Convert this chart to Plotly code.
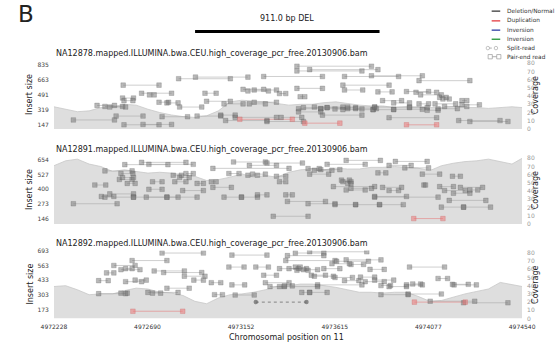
import plotly.graph_objects as go

# ---------------- data ----------------
X_START, X_END = 4972228, 4974540
X_TICKS = [4972228, 4972690, 4973152, 4973615, 4974077, 4974540]
DEL_START, DEL_END = 4972925, 4973836
DEL_LABEL = "911.0 bp DEL"
CHROM = "11"

SAMPLES = [
    "NA12878.mapped.ILLUMINA.bwa.CEU.high_coverage_pcr_free.20130906.bam",
    "NA12891.mapped.ILLUMINA.bwa.CEU.high_coverage_pcr_free.20130906.bam",
    "NA12892.mapped.ILLUMINA.bwa.CEU.high_coverage_pcr_free.20130906.bam",
]
INSERT_TICKS = [
    [147, 319, 491, 663, 835],
    [146, 273, 400, 527, 654],
    [173, 303, 433, 563, 693],
]
INSERT_RANGES = [[99.5, 886], [99.4, 688], [98.4, 695]]
COV_TICKS = [0, 10, 20, 30, 40, 50, 60, 70, 80]

COV_POS = [4972228, 4972286, 4972344, 4972402, 4972460, 4972518, 4972576, 4972634,
           4972692, 4972750, 4972808, 4972866, 4972924, 4972982, 4973040, 4973098,
           4973156, 4973214, 4973272, 4973330, 4973388, 4973446, 4973504, 4973562,
           4973620, 4973678, 4973736, 4973794, 4973852, 4973910, 4973968, 4974026,
           4974084, 4974142, 4974200, 4974258, 4974316, 4974374, 4974432, 4974490,
           4974540]
COV_P1 = [27, 24, 21, 22, 26, 27, 30, 29, 24, 20, 17, 15, 14, 16, 22, 33, 35, 34, 33, 31,
          29, 30, 30, 32, 33, 31, 29, 28, 28, 26, 27, 27, 26, 26, 27, 26, 26, 25, 26, 27, 26]
COV_P2 = [71, 77, 79, 73, 70, 64, 66, 64, 62, 63, 62, 60, 58, 53, 54, 57, 61, 57, 59, 57,
          63, 66, 67, 66, 68, 67, 67, 69, 69, 70, 69, 68, 65, 71, 74, 76, 77, 79, 76, 73, 80]
COV_P3 = [39, 40, 35, 29, 30, 30, 34, 37, 36, 32, 31, 28, 21, 18, 25, 29, 30, 32, 35, 39,
          40, 42, 42, 40, 38, 35, 32, 32, 31, 32, 32, 27, 21, 22, 26, 30, 33, 36, 44, 41, 39]

# pair-end reads (deletion/normal, gray)
P1_START = [4972570, 4972844, 4972927, 4973264, 4972567, 4972574, 4972661, 4972700, 4972974,
            4972441, 4972480, 4972504, 4972747, 4972786, 4972849, 4972982, 4973068, 4973193,
            4973217, 4973162, 4973186, 4973217, 4972324, 4972535, 4972762, 4972935, 4972574,
            4972668, 4973076, 4973123, 4973052, 4973428, 4973428, 4973491, 4973663, 4973796,
            4974031, 4973655, 4973663, 4973428, 4973828, 4973969, 4974016, 4974039, 4974133,
            4974149, 4974243, 4974243, 4973342, 4973444, 4973851, 4973906, 4974031, 4974110,
            4973436, 4973460, 4973514, 4973546, 4973577, 4973616, 4973655, 4973679, 4973718,
            4973804, 4973812, 4973906, 4973984, 4974071, 4974125, 4974157, 4973436, 4973554,
            4973883, 4974227, 4974282, 4973350, 4973280]
P1_END = [4972747, 4973099, 4973186, 4973554, 4972621, 4972618, 4972809, 4972723, 4973029,
          4972527, 4972567, 4972582, 4972794, 4972841, 4972958, 4973099, 4973162, 4973272,
          4973327, 4973264, 4973287, 4973327, 4972527, 4972668, 4972888, 4973052, 4972747,
          4972809, 4973280, 4973327, 4973123, 4973796, 4973749, 4973828, 4973930, 4974047,
          4974282, 4973883, 4973753, 4973554, 4973898, 4974078, 4974118, 4974141, 4974165,
          4974180, 4974267, 4974329, 4973373, 4973467, 4973945, 4973984, 4974078, 4974212,
          4973546, 4973577, 4973655, 4973679, 4973718, 4973749, 4973804, 4973812, 4973820,
          4973906, 4973984, 4974047, 4974071, 4974125, 4974220, 4974267, 4973546, 4973749,
          4974118, 4974431, 4974470, 4973452, 4973460]
P1_INSERT = [605, 679, 698, 705, 456, 426, 512, 493, 512,
             371, 359, 352, 408, 400, 352, 419, 389, 389,
             408, 557, 538, 549, 203, 248, 240, 248, 147,
             151, 196, 233, 259, 824, 769, 784, 705, 713,
             657, 605, 549, 568, 527, 531, 523, 493, 464,
             445, 426, 378, 508, 471, 426, 400, 389, 389,
             333, 345, 352, 333, 345, 330, 322, 352, 333,
             322, 352, 326, 345, 315, 333, 359, 296, 259,
             229, 196, 185, 233, 185]
P1_DUP_START = [4973146, 4973467, 4973969]
P1_DUP_END = [4973405, 4973640, 4974118]
P1_DUP_INSERT = [211, 166, 147]

P2_START = [4972578, 4972661, 4972697, 4973115, 4973193, 4973013, 4972480, 4972559, 4972551,
            4972567, 4972590, 4972817, 4972880, 4972825, 4972849, 4972935, 4973005, 4973092,
            4973186, 4973209, 4973327, 4972430, 4972715, 4972697, 4972864, 4973013, 4972504,
            4972462, 4972480, 4972621, 4972684, 4972786, 4972324, 4973068, 4973154, 4973233,
            4973311, 4973280, 4973577, 4973671, 4973914, 4973546, 4973483, 4973491, 4973514,
            4973961, 4973883, 4974047, 4974196, 4973828, 4973648, 4973655, 4973679, 4973608,
            4973671, 4973695, 4973851, 4973883, 4974055, 4974133, 4974157, 4974201, 4974235,
            4974282, 4973812, 4973373, 4973381, 4973483, 4973616, 4973718, 4973836, 4974180,
            4974141, 4974251, 4973342, 4973812]
P2_END = [4972791, 4972880, 4972916, 4973272, 4973327, 4973389, 4972614, 4972618, 4972614,
          4972621, 4972629, 4972857, 4972916, 4972880, 4972896, 4972966, 4973029, 4973142,
          4973233, 4973272, 4973373, 4972484, 4972762, 4972762, 4972966, 4973104, 4972621,
          4972524, 4972621, 4972786, 4972841, 4972935, 4972540, 4973154, 4973233, 4973280,
          4973483, 4973455, 4973765, 4973840, 4974071, 4973640, 4973538, 4973585, 4973601,
          4974078, 4973992, 4974133, 4974235, 4973867, 4973687, 4973695, 4973695, 4973812,
          4973765, 4973796, 4973945, 4973930, 4974063, 4974201, 4974259, 4974282, 4974345,
          4974321, 4974125, 4973405, 4973569, 4973616, 4973718, 4973836, 4973953, 4974361,
          4974251, 4974384, 4973373, 4973969]
P2_INSERT = [612, 632, 615, 635, 606, 580, 558, 535, 484,
             501, 450, 521, 535, 464, 501, 450, 464, 535,
             521, 530, 512, 436, 464, 399, 388, 416, 359,
             337, 331, 331, 331, 331, 274, 331, 331, 351,
             166, 626, 615, 649, 640, 569, 578, 530, 564,
             584, 606, 530, 512, 541, 478, 464, 450, 422,
             393, 407, 416, 388, 436, 422, 388, 365, 416,
             393, 331, 351, 294, 274, 266, 266, 266, 303,
             245, 245, 464, 337]
P2_DUP_START = [4974005]
P2_DUP_END = [4974149]
P2_DUP_INSERT = [146]

P3_START = [4972762, 4973107, 4973491, 4973420, 4972614, 4972524, 4972559, 4972582, 4972488,
            4972723, 4972770, 4972872, 4972449, 4972582, 4972629, 4972919, 4973005, 4973107,
            4973092, 4973225, 4973264, 4973272, 4973295, 4972449, 4972559, 4972692, 4972715,
            4972786, 4973021, 4973123, 4973381, 4973373, 4973624, 4973671, 4973695, 4973789,
            4973342, 4973389, 4973420, 4973428, 4973460, 4973499, 4973514, 4973561, 4973601,
            4973616, 4973663, 4973742, 4973765, 4973812, 4973843, 4973883, 4973984, 4973969,
            4974000, 4974125, 4974196, 4974204, 4973342, 4973530, 4973366, 4973452, 4973491,
            4973843, 4973977, 4974086, 4974251]
P3_END = [4972966, 4973280, 4973773, 4973561, 4972786, 4972629, 4972653, 4972614, 4972524,
          4972872, 4972958, 4972974, 4972496, 4972661, 4972684, 4972966, 4973052, 4973170,
          4973167, 4973287, 4973327, 4973389, 4973366, 4972582, 4972590, 4972841, 4972755,
          4972896, 4973060, 4973217, 4973561, 4973616, 4973781, 4973843, 4973757, 4973859,
          4973436, 4973475, 4973444, 4973483, 4973530, 4973569, 4973608, 4973640, 4973687,
          4973702, 4973734, 4973812, 4973859, 4973906, 4973890, 4973969, 4974157, 4974047,
          4974039, 4974172, 4974274, 4974314, 4973530, 4973749, 4973405, 4973491, 4973577,
          4973977, 4974141, 4974306, 4974470]
P3_INSERT = [672, 654, 683, 672, 606, 563, 526, 535, 498,
             515, 501, 469, 430, 421, 435, 435, 412, 393,
             549, 549, 478, 412, 378, 316, 321, 327, 321,
             364, 307, 304, 649, 606, 600, 612, 572, 529,
             535, 535, 549, 521, 526, 478, 469, 535, 578,
             458, 430, 461, 421, 435, 387, 378, 549, 393,
             401, 449, 398, 393, 378, 393, 384, 327, 327,
             307, 313, 250, 236]
P3_DUP_START = [4972618, 4974008]
P3_DUP_END = [4972864, 4974259]
P3_DUP_INSERT = [162, 242]
P3_SPLIT_START = [4973225]
P3_SPLIT_END = [4973475]
P3_SPLIT_INSERT = [242]

PANELS = [
    dict(cov=COV_P1, s=P1_START, e=P1_END, v=P1_INSERT,
         ds=P1_DUP_START, de=P1_DUP_END, dv=P1_DUP_INSERT, ss=[], se=[], sv=[]),
    dict(cov=COV_P2, s=P2_START, e=P2_END, v=P2_INSERT,
         ds=P2_DUP_START, de=P2_DUP_END, dv=P2_DUP_INSERT, ss=[], se=[], sv=[]),
    dict(cov=COV_P3, s=P3_START, e=P3_END, v=P3_INSERT,
         ds=P3_DUP_START, de=P3_DUP_END, dv=P3_DUP_INSERT,
         ss=P3_SPLIT_START, se=P3_SPLIT_END, sv=P3_SPLIT_INSERT),
]

# ---------------- layout helpers ----------------
W, H = 558, 346
FONT = "DejaVu Sans"


def px(x):
    return x / W


def py(y):
    return 1 - y / H


X_DOMAIN = [px(43), px(535)]
PANEL_PX = [(58, 127.5), (155, 224.5), (251.5, 321)]
TITLE_Y = [51, 148, 244.5]


def seg(starts, ends, vals):
    xs, ys = [], []
    for a, b, v in zip(starts, ends, vals):
        xs += [a, b, None]
        ys += [v, v, None]
    return xs, ys


fig = go.Figure()
layout = dict(
    width=W, height=H, margin=dict(l=0, r=0, t=0, b=0),
    paper_bgcolor="white", plot_bgcolor="white", showlegend=False,
    font=dict(family=FONT, color="#222"),
)
annotations = []
shapes = []

for i, p in enumerate(PANELS):
    xname = "x" if i == 0 else f"x{i + 1}"
    cov_name = "y" if i == 0 else f"y{2 * i + 1}"
    ins_name = f"y{2 * i + 2}"
    top, bot = PANEL_PX[i]

    fig.add_trace(go.Scatter(x=COV_POS, y=p["cov"], mode="lines", fill="tozeroy",
                             fillcolor="#dedede", line=dict(color="#c8c8c8", width=0.8),
                             xaxis=xname, yaxis=cov_name, hoverinfo="skip"))
    lx, ly = seg(p["s"], p["e"], p["v"])
    fig.add_trace(go.Scatter(x=lx, y=ly, mode="lines",
                             line=dict(color="rgba(160,160,160,0.5)", width=1),
                             xaxis=xname, yaxis=ins_name, hoverinfo="skip"))
    if p["ds"]:
        dx, dy = seg(p["ds"], p["de"], p["dv"])
        fig.add_trace(go.Scatter(x=dx, y=dy, mode="lines",
                                 line=dict(color="rgba(230,120,120,0.55)", width=1),
                                 xaxis=xname, yaxis=ins_name, hoverinfo="skip"))
    if p["ss"]:
        sx, sy = seg(p["ss"], p["se"], p["sv"])
        fig.add_trace(go.Scatter(x=sx, y=sy, mode="lines+markers",
                                 line=dict(color="rgba(110,110,110,0.8)", width=1, dash="dot"),
                                 marker=dict(symbol="circle", size=4.5,
                                             color="rgba(100,100,100,0.7)"),
                                 xaxis=xname, yaxis=ins_name, hoverinfo="skip"))
    mx = [a for pair in zip(p["s"], p["e"]) for a in pair]
    my = [v for v in p["v"] for _ in (0, 1)]
    fig.add_trace(go.Scatter(x=mx, y=my, mode="markers",
                             marker=dict(symbol="square", size=4.6,
                                         color="rgba(115,115,115,0.5)",
                                         line=dict(color="rgba(90,90,90,0.5)", width=0.5)),
                             xaxis=xname, yaxis=ins_name, hoverinfo="skip"))
    if p["ds"]:
        dmx = [a for pair in zip(p["ds"], p["de"]) for a in pair]
        dmy = [v for v in p["dv"] for _ in (0, 1)]
        fig.add_trace(go.Scatter(x=dmx, y=dmy, mode="markers",
                                 marker=dict(symbol="square", size=4.6,
                                             color="rgba(235,120,120,0.55)",
                                             line=dict(color="rgba(205,90,90,0.55)", width=0.5)),
                                 xaxis=xname, yaxis=ins_name, hoverinfo="skip"))

    xkey = "xaxis" if i == 0 else f"xaxis{i + 1}"
    ckey = "yaxis" if i == 0 else f"yaxis{2 * i + 1}"
    ikey = f"yaxis{2 * i + 2}"
    last = i == len(PANELS) - 1
    layout[xkey] = dict(domain=X_DOMAIN, range=[X_START, X_END], anchor=cov_name,
                        showgrid=False, zeroline=False, showline=False, ticks="",
                        showticklabels=last, tickvals=X_TICKS,
                        ticktext=[str(t) for t in X_TICKS], ticklabelstandoff=3,
                        tickfont=dict(size=6, color="#333", family=FONT))
    layout[ckey] = dict(domain=[py(bot), py(top)], range=[0, 83], anchor=xname,
                        side="right", showgrid=False, zeroline=False, showline=False,
                        ticks="", tickvals=COV_TICKS, ticklabelstandoff=4,
                        tickfont=dict(size=6, color="#9a9a9a", family=FONT))
    layout[ikey] = dict(overlaying=cov_name, anchor=xname, side="left",
                        range=INSERT_RANGES[i], showgrid=False, zeroline=False,
                        showline=False, ticks="", tickvals=INSERT_TICKS[i],
                        ticklabelstandoff=4,
                        tickfont=dict(size=6, color="#444", family=FONT))

    mid = (top + bot) / 2
    annotations.append(dict(text=SAMPLES[i], x=px(43), y=py(TITLE_Y[i]), xref="paper",
                            yref="paper", xanchor="left", yanchor="middle", showarrow=False,
                            font=dict(size=8, color="#222", family=FONT)))
    annotations.append(dict(text="Insert size", x=px(18), y=py(mid), xref="paper",
                            yref="paper", textangle=-90, showarrow=False,
                            xanchor="center", yanchor="middle",
                            font=dict(size=8, color="#222", family=FONT)))
    annotations.append(dict(text="Coverage", x=px(549), y=py(mid), xref="paper",
                            yref="paper", textangle=-90, showarrow=False,
                            xanchor="center", yanchor="middle",
                            font=dict(size=8, color="#222", family=FONT)))

# scale bar (deletion extent) on its own axis sharing the genomic scale
fig.add_trace(go.Scatter(x=[DEL_START, DEL_END], y=[0.39, 0.39], mode="lines",
                         line=dict(color="black", width=3), xaxis="x4", yaxis="y7",
                         hoverinfo="skip"))
layout["xaxis4"] = dict(domain=X_DOMAIN, range=[X_START, X_END], anchor="y7", visible=False)
layout["yaxis7"] = dict(domain=[0.88, 0.98], range=[0, 1], anchor="x4", visible=False)
annotations.append(dict(text=DEL_LABEL, x=(DEL_START + DEL_END) / 2, y=0.77, xref="x4",
                        yref="y7", showarrow=False, xanchor="center", yanchor="middle",
                        font=dict(size=8, color="#222", family=FONT)))

annotations.append(dict(text="B", x=px(3), y=py(10.5), xref="paper", yref="paper",
                        xanchor="left", yanchor="middle", showarrow=False,
                        font=dict(size=23, color="#222", family=FONT)))
annotations.append(dict(text=f"Chromosomal position on {CHROM}", x=px(287.5), y=py(340),
                        xref="paper", yref="paper", xanchor="center", yanchor="middle",
                        showarrow=False, font=dict(size=8, color="#222", family=FONT)))

# legend (drawn by hand)
LEGEND_LINES = [("Deletion/Normal", "#555555"), ("Duplication", "#e8555a"),
                ("Inversion", "#4a56b0"), ("Inversion", "#3aa04a")]
LEG_Y = [7.3, 17.2, 26.7, 36, 45, 53.8]
for (name, col), yy in zip(LEGEND_LINES, LEG_Y):
    shapes.append(dict(type="line", xref="paper", yref="paper", x0=px(503), x1=px(512),
                       y0=py(yy), y1=py(yy), line=dict(color=col, width=1.5)))
    annotations.append(dict(text=name, x=px(516.5), y=py(yy), xref="paper", yref="paper",
                            xanchor="left", yanchor="middle", showarrow=False,
                            font=dict(size=5.8, color="#333", family=FONT)))
yy = LEG_Y[4]
shapes.append(dict(type="line", xref="paper", yref="paper", x0=px(500), x1=px(507),
                   y0=py(yy), y1=py(yy), line=dict(color="#999", width=0.8, dash="dot")))
for cx in (499, 507.5):
    shapes.append(dict(type="circle", xref="paper", yref="paper", x0=px(cx - 1.8),
                       x1=px(cx + 1.8), y0=py(yy + 1.8), y1=py(yy - 1.8),
                       line=dict(color="#aaa", width=0.7), fillcolor="white"))
annotations.append(dict(text="Split-read", x=px(516.5), y=py(yy), xref="paper", yref="paper",
                        xanchor="left", yanchor="middle", showarrow=False,
                        font=dict(size=5.8, color="#333", family=FONT)))
yy = LEG_Y[5]
shapes.append(dict(type="line", xref="paper", yref="paper", x0=px(502), x1=px(510),
                   y0=py(yy), y1=py(yy), line=dict(color="#999", width=0.8)))
for cx in (501.5, 510.5):
    shapes.append(dict(type="rect", xref="paper", yref="paper", x0=px(cx - 2.2),
                       x1=px(cx + 2.2), y0=py(yy + 2.2), y1=py(yy - 2.2),
                       line=dict(color="#999", width=0.7), fillcolor="white"))
annotations.append(dict(text="Pair-end read", x=px(516.5), y=py(yy), xref="paper",
                        yref="paper", xanchor="left", yanchor="middle", showarrow=False,
                        font=dict(size=5.8, color="#333", family=FONT)))

layout["annotations"] = annotations
layout["shapes"] = shapes
fig.update_layout(**layout)
fig.write_html("out.html")
